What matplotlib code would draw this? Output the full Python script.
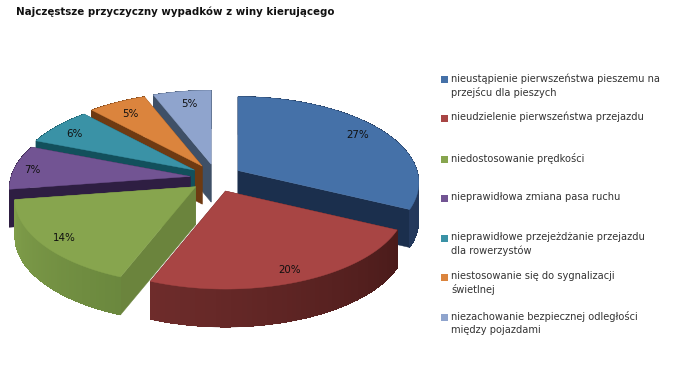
import numpy as np
import matplotlib
matplotlib.use("Agg")
import matplotlib.pyplot as plt
from matplotlib.patches import Polygon, Rectangle
from matplotlib.colors import to_rgb

title = "Najczęstsze przyczyczny wypadków z winy kierującego"
labels = ["nieustąpienie pierwszeństwa pieszemu na\nprzejścu dla pieszych",
          "nieudzielenie pierwszeństwa przejazdu",
          "niedostosowanie prędkości",
          "nieprawidłowa zmiana pasa ruchu",
          "nieprawidłowe przejeżdżanie przejazdu\ndla rowerzystów",
          "niestosowanie się do sygnalizacji\nświetlnej",
          "niezachowanie bezpiecznej odległości\nmiędzy pojazdami"]
values = [27, 20, 14, 7, 6, 5, 5]

top_colors = ["#4571A8", "#A84544", "#87A54E", "#725493", "#3A92A6", "#DB843D", "#8FA4CD"]
face_colors = ["#1B2F4D", "#4A1B1A", "#6B843D", "#2E1E42", "#12505C", "#6E3A12", "#3F5067"]
rim_a = ["#1B2F4D", "#4A1B1A", "#6B883E", "#2E1E42", "#12505C", "#6E3A12", "#3F5067"]  # rim at slice start
rim_b = ["#24395C", "#6E2C2B", "#809E4A", "#2E1E42", "#12505C", "#6E3A12", "#3F5067"]  # rim at slice end
draw_order = [6, 5, 4, 3, 0, 2, 1]

# projection layout, in pixels of the 682x387 canvas
CX, CY = 216, 178
RX, RY, PERSP = 179, 84.3, 0.14
EX, EY = 26, 14
DEPTH = 38

pct_xy = [(358, 135), (290, 270), (64, 238), (32, 170), (74, 134), (130, 114), (189, 104)]
legend_y = [79, 118, 159, 198, 238, 277, 317]
LEG_SQ_X, LEG_TXT_X, LEG_SQ = 441, 451, 7
LINE = 1.38

fig = plt.figure(figsize=(6.82, 3.87), dpi=100)
ax = fig.add_axes([0, 0, 1, 1])
ax.set_xlim(0, 682)
ax.set_ylim(387, 0)
ax.axis("off")


def rim_point(apex, theta):
    u, v = np.sin(theta), -np.cos(theta)
    d = 1 - PERSP * v
    return apex[0] + RX * u / d, apex[1] + RY * v / d


def poly(pts, color, z, aa=True):
    ax.add_patch(Polygon(pts, closed=True, facecolor=color, edgecolor=color,
                         lw=0.3 if aa else 0, zorder=z, antialiased=aa))


angles = np.cumsum([0] + values) / sum(values) * 2 * np.pi
for rank, i in enumerate(draw_order):
    a0, a1 = angles[i], angles[i + 1]
    mid = (a0 + a1) / 2
    apex = (CX + EX * np.sin(mid), CY - EY * np.cos(mid))
    ths = np.linspace(a0, a1, 61)
    rim = [rim_point(apex, t) for t in ths]
    z = 2 + rank
    down = lambda p: (p[0], p[1] + DEPTH)
    # radial faces
    poly([apex, rim[0], down(rim[0]), down(apex)], face_colors[i], z)
    poly([apex, rim[-1], down(rim[-1]), down(apex)], face_colors[i], z)
    # outer wall: a smooth base shape, then the gradient steps on top of it
    ca, cb = np.array(to_rgb(rim_a[i])), np.array(to_rgb(rim_b[i]))
    poly(rim + [down(p) for p in rim[::-1]], tuple((ca + cb) / 2), z)
    for k in range(len(rim) - 1):
        f = k / (len(rim) - 2)
        poly([rim[k], rim[k + 1], down(rim[k + 1]), down(rim[k])], tuple(ca + (cb - ca) * f), z, aa=False)
    # top surface
    poly([apex] + rim, top_colors[i], z)

for v, (x, y) in zip(values, pct_xy):
    ax.text(x, y, f"{v}%", ha="center", va="center", fontsize=7.4, color="#101010",
            family="DejaVu Sans", zorder=20)

ax.text(16, 12, title, ha="left", va="center", fontsize=7.4, fontweight="bold",
        color="#111111", family="DejaVu Sans")

for lab, y, c in zip(labels, legend_y, top_colors):
    ax.add_patch(Rectangle((LEG_SQ_X, y - LEG_SQ / 2), LEG_SQ, LEG_SQ, facecolor=c, edgecolor="none"))
    ax.text(LEG_TXT_X, y - 6, lab, ha="left", va="top", fontsize=7.15, color="#333333",
            family="DejaVu Sans", linespacing=LINE)

fig.savefig("out.png", dpi=100)
